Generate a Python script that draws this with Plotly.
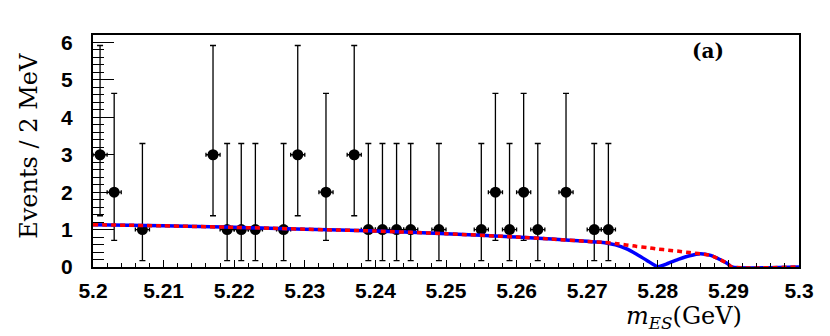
import plotly.graph_objects as go

# ---- data ----
mes_points = [5.201, 5.203, 5.207, 5.217, 5.219, 5.221, 5.223, 5.227, 5.229, 5.233,
              5.237, 5.239, 5.241, 5.243, 5.245, 5.249, 5.255, 5.257, 5.259, 5.261,
              5.263, 5.267, 5.271, 5.273]
counts = [3, 2, 1, 3, 1, 1, 1, 1, 3, 2,
          3, 1, 1, 1, 1, 1, 1, 2, 1, 2,
          1, 2, 1, 1]
# asymmetric Poisson errors per count
err_up_by_n = {1: 2.30, 2: 2.64, 3: 2.92}
err_dn_by_n = {1: 0.83, 2: 1.29, 3: 1.63}
err_up = [err_up_by_n[n] for n in counts]
err_dn = [err_dn_by_n[n] for n in counts]
bin_half_width = [0.001] * len(mes_points)

mes_curve = [5.200, 5.210, 5.220, 5.230, 5.240, 5.250, 5.260, 5.265, 5.270, 5.2725,
             5.2740, 5.2755, 5.2770, 5.2785, 5.2800, 5.2815, 5.2830, 5.2845, 5.2860,
             5.2875, 5.2888, 5.2898, 5.2905, 5.300]
background = [1.13, 1.10, 1.06, 1.01, 0.96, 0.89, 0.80, 0.745, 0.685, 0.655,
              0.625, 0.59, 0.55, 0.52, 0.48, 0.45, 0.42, 0.385, 0.355,
              0.31, 0.20, 0.10, 0.0, 0.0]
total_fit = [1.13, 1.10, 1.06, 1.01, 0.96, 0.89, 0.80, 0.745, 0.685, 0.65,
             0.59, 0.49, 0.34, 0.17, 0.01, 0.10, 0.21, 0.30, 0.355,
             0.31, 0.20, 0.10, 0.0, 0.0]

x_ticks = [5.2, 5.21, 5.22, 5.23, 5.24, 5.25, 5.26, 5.27, 5.28, 5.29, 5.3]
x_tick_text = ["5.2", "5.21", "5.22", "5.23", "5.24", "5.25", "5.26", "5.27", "5.28", "5.29", "5.3"]
y_ticks = [0, 1, 2, 3, 4, 5, 6]

# ---- figure ----
fig = go.Figure()
fig.add_trace(go.Scatter(
    x=mes_points, y=counts, mode="markers",
    marker=dict(color="black", size=11),
    error_y=dict(type="data", symmetric=False, array=err_up, arrayminus=err_dn,
                 color="black", thickness=1.3, width=3),
    error_x=dict(type="data", array=bin_half_width, color="black", thickness=1.3, width=2),
    showlegend=False, cliponaxis=False,
))
fig.add_trace(go.Scatter(
    x=mes_curve, y=total_fit, mode="lines",
    line=dict(color="#0000ff", width=3.5, shape="spline", smoothing=0.6),
    showlegend=False,
))
fig.add_trace(go.Scatter(
    x=mes_curve, y=background, mode="lines",
    line=dict(color="#ff0000", width=3.5, dash="5px,4px", shape="spline", smoothing=0.6),
    showlegend=False,
))

OFF = 8  # page body margin
PL, PR, PT, PB = 93, 799, 35, 267.5  # plot box in window pixels
W, H = 830 - OFF, 336 - OFF
L = PL - OFF
T = PT - OFF
R = W - (PR - OFF)
B = H - (PB - OFF)
pw = PR - PL
ph = PB - PT

def px(xp):
    return (xp - PL) / pw

def py(yp):
    return (PB - yp) / ph

tick_font = dict(family="Liberation Sans, Arial, sans-serif", size=21, color="black", weight="bold")

fig.update_layout(
    width=W, height=H,
    margin=dict(l=L, r=R, t=T, b=B, pad=0),
    paper_bgcolor="white", plot_bgcolor="white",
    xaxis=dict(range=[5.2, 5.3], tickvals=x_ticks, ticktext=x_tick_text,
               ticks="inside", ticklen=7, tickwidth=1.3, tickcolor="black",
               minor=dict(dtick=0.002, ticks="inside", ticklen=4, tickwidth=1.3, tickcolor="black"),
               showline=True, linecolor="black", linewidth=2, mirror=True, automargin=False,
               showgrid=False, zeroline=False, tickfont=tick_font, ticklabelstandoff=4),
    yaxis=dict(range=[0, 6.2], tickvals=y_ticks,
               ticks="inside", ticklen=21, tickwidth=1.3, tickcolor="black",
               minor=dict(dtick=0.2, ticks="inside", ticklen=11, tickwidth=1.3, tickcolor="black"),
               showline=True, linecolor="black", linewidth=2, mirror=True, automargin=False,
               showgrid=False, zeroline=False, tickfont=tick_font, ticklabelstandoff=14),
    annotations=[
        dict(text="Events / 2 MeV", textangle=-90, xref="paper", yref="paper",
             x=px(29), y=py(146), xanchor="center", yanchor="middle", showarrow=False,
             font=dict(family="DejaVu Serif, serif", size=24, color="black")),
        dict(text="<i>m</i><sub><i>ES</i></sub>(GeV)", xref="paper", yref="paper",
             x=px(684), y=py(318), xanchor="center", yanchor="middle", showarrow=False,
             font=dict(family="DejaVu Serif, serif", size=24, color="black")),
        dict(text="<b>(a)</b>", xref="paper", yref="paper",
             x=px(708), y=py(51), xanchor="center", yanchor="middle", showarrow=False,
             font=dict(family="DejaVu Serif, serif", size=20, color="black")),
    ],
)

fig.write_html("out.html")
